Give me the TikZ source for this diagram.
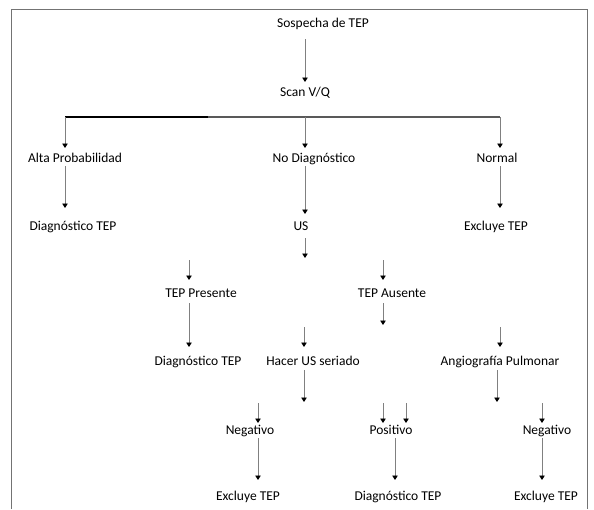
\documentclass[tikz,border=0pt]{standalone}
\usepackage{fontspec}
\setmainfont{Carlito}
\usetikzlibrary{arrows.meta}
\begin{document}
\begin{tikzpicture}[x=1pt,y=-1pt,
  lbl/.style={inner sep=0pt,text height=0.68em,text depth=0.22em,font=\fontsize{13.5}{16}\selectfont},
  arr/.style={draw=black!50,line width=0.8pt,-{Triangle[width=5.5pt,length=4.5pt,color=black]}},
  bar/.style={draw=black!65,line width=1.1pt},
  bardark/.style={draw=black,line width=1.2pt},
  frame/.style={draw=black!55,line width=0.9pt}]
\useasboundingbox (0,0) rectangle (594,509);
\draw[frame] (11,509) -- (11,9.5) -- (587,9.5) -- (587,509);
% nodes
\node[lbl] (sosp) at (323,25) {Sospecha de TEP};
\node[lbl] (scan) at (305,94) {Scan V/Q};
\node[lbl] (alta) at (75,160) {Alta Probabilidad};
\node[lbl] (nodiag) at (314,160) {No Diagnóstico};
\node[lbl] (normal) at (497,160) {Normal};
\node[lbl] (diagA) at (73,228) {Diagnóstico TEP};
\node[lbl] (us) at (301,228) {US};
\node[lbl] (exclA) at (496,228) {Excluye TEP};
\node[lbl] (pres) at (201,295) {TEP Presente};
\node[lbl] (aus) at (392,295) {TEP Ausente};
\node[lbl] (diagB) at (198,363) {Diagnóstico TEP};
\node[lbl] (hacer) at (313,363) {Hacer US seriado};
\node[lbl] (angio) at (500,363) {Angiografía Pulmonar};
\node[lbl] (negA) at (250,432) {Negativo};
\node[lbl] (pos) at (391,432) {Positivo};
\node[lbl] (negB) at (547,432) {Negativo};
\node[lbl] (exclB) at (248,498) {Excluye TEP};
\node[lbl] (diagC) at (398,498) {Diagnóstico TEP};
\node[lbl] (exclC) at (546,498) {Excluye TEP};
% coordinates
\coordinate (s1) at (305,39); \coordinate (e1) at (305,82);
\coordinate (hl) at (65,117); \coordinate (hk) at (208,117); \coordinate (hm) at (305,117); \coordinate (hr) at (500,117);
\coordinate (dl) at (65,148); \coordinate (dm) at (305,148); \coordinate (dr) at (500,148);
\coordinate (s2l) at (65,166); \coordinate (e2l) at (65,208);
\coordinate (s2m) at (305,166); \coordinate (e2m) at (305,214);
\coordinate (s2r) at (500,166); \coordinate (e2r) at (500,208);
\coordinate (s3) at (305,238); \coordinate (e3) at (305,258);
\coordinate (s4l) at (189,260); \coordinate (e4l) at (189,280);
\coordinate (s4r) at (383,260); \coordinate (e4r) at (383,280);
\coordinate (s5r) at (383,303); \coordinate (e5r) at (383,325);
\coordinate (s5l) at (189,303); \coordinate (e5l) at (189,347);
\coordinate (s6m) at (304,327); \coordinate (e6m) at (304,347);
\coordinate (s6r) at (500,327); \coordinate (e6r) at (500,347);
\coordinate (s7m) at (304,370); \coordinate (e7m) at (304,402);
\coordinate (s7r) at (497,370); \coordinate (e7r) at (497,402);
\coordinate (s8a) at (258,403); \coordinate (e8a) at (258,423);
\coordinate (s8b) at (383,403); \coordinate (e8b) at (383,423);
\coordinate (s8c) at (406,403); \coordinate (e8c) at (406,423);
\coordinate (s8d) at (542,403); \coordinate (e8d) at (542,423);
\coordinate (s9a) at (258,438); \coordinate (e9a) at (258,480);
\coordinate (s9b) at (395,438); \coordinate (e9b) at (395,480);
\coordinate (s9c) at (542,438); \coordinate (e9c) at (542,480);
% connectors
\draw[arr] (s1) -- (e1);
\draw[bar] (hk) -- (hr);
\draw[bardark] (hl) -- (hk);
\draw[arr] (hl) -- (dl);
\draw[arr] (hm) -- (dm);
\draw[arr] (hr) -- (dr);
\draw[arr] (s2l) -- (e2l);
\draw[arr] (s2m) -- (e2m);
\draw[arr] (s2r) -- (e2r);
\draw[arr] (s3) -- (e3);
\draw[arr] (s4l) -- (e4l);
\draw[arr] (s4r) -- (e4r);
\draw[arr] (s5r) -- (e5r);
\draw[arr] (s5l) -- (e5l);
\draw[arr] (s6m) -- (e6m);
\draw[arr] (s6r) -- (e6r);
\draw[arr] (s7m) -- (e7m);
\draw[arr] (s7r) -- (e7r);
\draw[arr] (s8a) -- (e8a);
\draw[arr] (s8b) -- (e8b);
\draw[arr] (s8c) -- (e8c);
\draw[arr] (s8d) -- (e8d);
\draw[arr] (s9a) -- (e9a);
\draw[arr] (s9b) -- (e9b);
\draw[arr] (s9c) -- (e9c);
\end{tikzpicture}
\end{document}
